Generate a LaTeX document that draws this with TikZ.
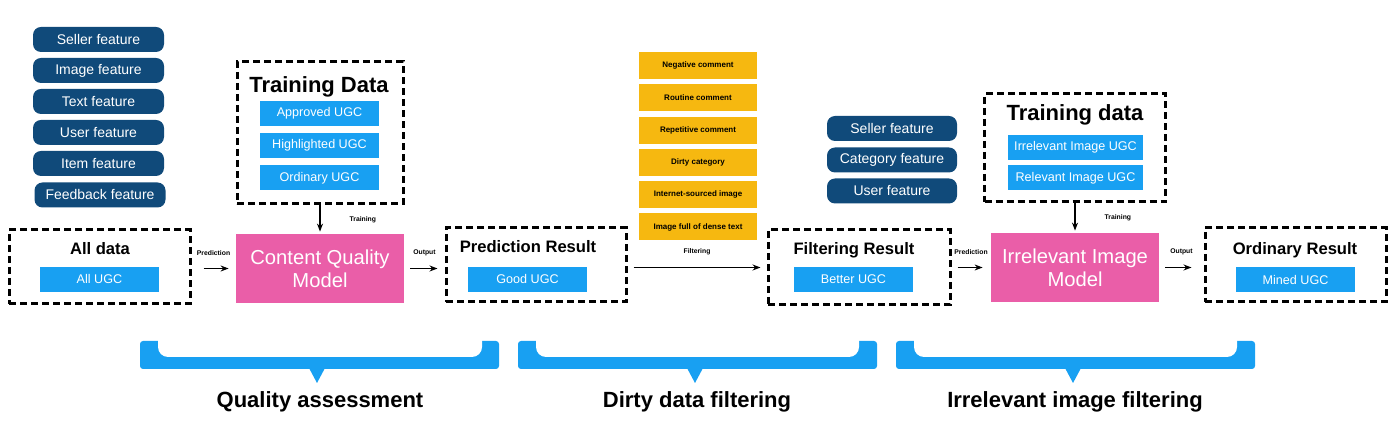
\documentclass[tikz,border=0pt]{standalone}
\usepackage{fontspec}
\setmainfont{Liberation Sans}
\usetikzlibrary{arrows.meta}

\definecolor{navy}{RGB}{16,74,122}
\definecolor{skyb}{RGB}{24,160,242}
\definecolor{pinkm}{RGB}{234,94,168}
\definecolor{amber}{RGB}{246,184,16}

\begin{document}
\begin{tikzpicture}[x=0.5pt,y=-0.5pt,
  pill/.style={fill=navy,rounded corners=4pt,text=white,inner sep=0pt,
    minimum width=65.5pt,minimum height=12.5pt,font=\fontsize{7}{8}\selectfont},
  ugc/.style={fill=skyb,text=white,inner sep=0pt,
    minimum width=59.5pt,minimum height=12.5pt,font=\fontsize{6.3}{7}\selectfont},
  dirt/.style={fill=amber,inner sep=0pt,minimum width=59pt,minimum height=13.5pt,
    font=\bfseries\fontsize{4}{5}\selectfont},
  dbox/.style={draw,line width=1.5pt,dash pattern=on 3.5pt off 2pt,inner sep=0pt},
  title/.style={font=\bfseries\fontsize{8.3}{10}\selectfont},
  big/.style={font=\bfseries\fontsize{11}{13}\selectfont},
  model/.style={fill=pinkm,text=white,align=center,inner sep=0pt,
    minimum width=84pt,minimum height=34.5pt,font=\fontsize{10.1}{11.5}\selectfont},
  lbl/.style={font=\bfseries\fontsize{3.4}{4}\selectfont,inner sep=0pt},
  flow/.style={-{Stealth[length=4pt,width=3pt]},line width=0.6pt,
    shorten <=3pt,shorten >=3.5pt},
  brk/.style={fill=skyb},
  stage/.style={font=\bfseries\fontsize{11}{13}\selectfont}]
\useasboundingbox (0,0) rectangle (1400,431);

% features for quality model
\node[pill] (fseller) at (98.5,39.5) {Seller feature};
\node[pill] (fimage) at (98.5,70.5) {Image feature};
\node[pill] (ftext) at (98.5,101.5) {Text feature};
\node[pill] (fuser) at (98.5,132.5) {User feature};
\node[pill] (fitem) at (98.5,163.5) {Item feature};
\node[pill] (ffeed) at (100,195) {Feedback feature};

% training data, quality
\node[dbox,minimum width=83pt,minimum height=71pt] (tdq) at (320,133) {};
\node[big] (tdqt) at (319,87) {Training Data};
\node[ugc] (approved) at (319.5,113.5) {Approved UGC};
\node[ugc] (highl) at (319.5,145.5) {Highlighted UGC};
\node[ugc] (ordin) at (319.5,178) {Ordinary UGC};

% all data
\node[dbox,minimum width=90.5pt,minimum height=37pt] (alld) at (99.5,267) {};
\node[title] (alldt) at (100,249) {All data};
\node[ugc] (allugc) at (99.5,279.5) {All UGC};

\node[model] (cqm) at (320,268.5) {Content Quality\\Model};

% prediction result
\node[dbox,minimum width=90pt,minimum height=37pt] (pres) at (536,265) {};
\node[title] (prest) at (528,247) {Prediction Result};
\node[ugc] (good) at (527.5,279.5) {Good UGC};

% dirty data
\node[dirt] (neg) at (698,65.5) {Negative comment};
\node[dirt] (rout) at (698,98) {Routine comment};
\node[dirt] (rep) at (698,130.5) {Repetitive comment};
\node[dirt] (dcat) at (698,162.5) {Dirty category};
\node[dirt] (inet) at (698,194.5) {Internet-sourced image};
\node[dirt] (dense) at (698,227) {Image full of dense text};

% filtering result
\node[dbox,minimum width=91pt,minimum height=37.5pt] (fres) at (859,267.5) {};
\node[title] (frest) at (854,250) {Filtering Result};
\node[ugc] (better) at (853.5,279.5) {Better UGC};

% features for image model
\node[pill,minimum width=65pt] (gseller) at (892,128.5) {Seller feature};
\node[pill,minimum width=65pt] (gcat) at (892,160) {Category feature};
\node[pill,minimum width=65pt] (guser) at (892,191) {User feature};

% training data, image
\node[dbox,minimum width=90.5pt,minimum height=54pt] (tdi) at (1075,148) {};
\node[big] (tdit) at (1075,115) {Training data};
\node[ugc,minimum width=67.5pt] (irrel) at (1075.5,147.5) {Irrelevant Image UGC};
\node[ugc,minimum width=67.5pt] (rel) at (1075.5,178) {Relevant Image UGC};

\node[model] (iim) at (1075,267.5) {Irrelevant Image\\Model};

% ordinary result
\node[dbox,minimum width=90.5pt,minimum height=37pt] (ores) at (1295.5,265) {};
\node[title] (orest) at (1295,250) {Ordinary Result};
\node[ugc] (mined) at (1295.5,280) {Mined UGC};

% arrows
\draw[flow,shorten <=6pt] (alld.east |- cqm) -- (cqm.west)
  node[lbl,midway,above=6pt] (lpa) {Prediction};
\draw[flow] (cqm.east) -- (cqm.east -| pres.west)
  node[lbl,midway,above=6pt] (loa) {Output};
\draw[flow,shorten >=3pt] (pres.east |- fres) -- (fres.west)
  node[lbl,midway,above=6pt] (lfi) {Filtering};
\draw[flow,shorten >=4pt] (fres.east |- iim) -- (iim.west)
  node[lbl,midway,above=6pt] (lpb) {Prediction};
\draw[flow,shorten >=6pt] (iim.east) -- (iim.east -| ores.west)
  node[lbl,midway,above=6pt] (lob) {Output};
\draw[flow,shorten <=0pt,shorten >=1pt] (tdq) -- (cqm)
  node[lbl,midway,right=14.5pt] (lta) {Training};
\draw[flow,shorten <=0pt,shorten >=1pt] (tdi) -- (iim)
  node[lbl,midway,right=14.5pt] (ltb) {Training};

% stage brackets
\fill[brk,rounded corners=1.5pt] (140,341) rectangle (499,369);
\fill[white,rounded corners=5pt] (158,330) rectangle (482,357);
\fill[brk] (309,368) -- (325,368) -- (317,383) -- cycle;
\node[stage] (sqa) at (320,402) {Quality assessment};

\fill[brk,rounded corners=1.5pt] (518,341) rectangle (877,369);
\fill[white,rounded corners=5pt] (536,330) rectangle (859,357);
\fill[brk] (687,368) -- (703,368) -- (695,383) -- cycle;
\node[stage] (sdd) at (697,402) {Dirty data filtering};

\fill[brk,rounded corners=1.5pt] (896,341) rectangle (1255,369);
\fill[white,rounded corners=5pt] (914,330) rectangle (1237,357);
\fill[brk] (1065,368) -- (1081,368) -- (1073,383) -- cycle;
\node[stage] (sii) at (1075,402) {Irrelevant image filtering};

\end{tikzpicture}
\end{document}
